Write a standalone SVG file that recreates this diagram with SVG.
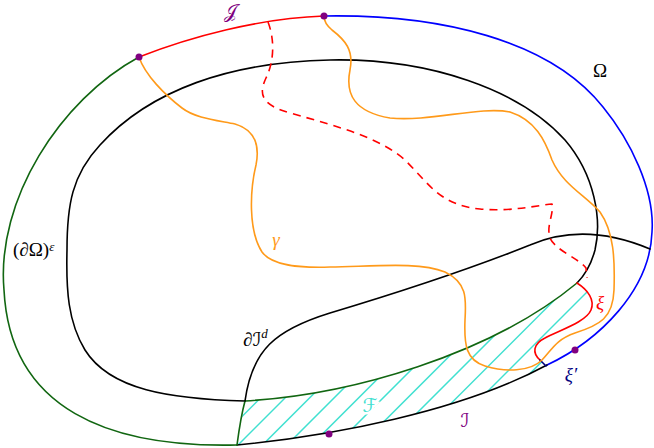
<svg xmlns="http://www.w3.org/2000/svg" width="654" height="448" viewBox="0 0 654 448">
  <style>
    .c { fill: none; stroke-width: 1.6; stroke-linecap: round; stroke-linejoin: round; }
    .blk { stroke: #000000; }
    .grn { stroke: #116611; }
    .blu { stroke: #0000ff; }
    .red { stroke: #ff0000; }
    .nav { stroke: #000080; }
    .org { stroke: #ff9a1a; }
    .dash { stroke-dasharray: 8 6; stroke-linecap: butt; }
    .hatch { stroke: #40e0d0; stroke-width: 1.5; fill: none; }
    .dot { fill: #800080; }
    .t { font-family: "Liberation Serif", "DejaVu Serif", "DejaVu Sans", "Noto Sans", serif; font-size: 19px; }
    .i { font-style: italic; }
  </style>
  <defs>
    <clipPath id="regionF">
      <path d="M237,445 L245,401 C350,395 490,355 577,283 C588,290 595,300 591,310 C586,322 560,330 545,338 C533,344 532,353 540,360 L546,366 C460,412 330,436 237,445 Z"/>
    </clipPath>
  </defs>

  <g id="hatch-F" clip-path="url(#regionF)" class="hatch">
    <line x1="198.5" y1="460" x2="388.5" y2="270"/>
    <line x1="223" y1="460" x2="413" y2="270"/>
    <line x1="247.5" y1="460" x2="437.5" y2="270"/>
    <line x1="272" y1="460" x2="462" y2="270"/>
    <line x1="296.5" y1="460" x2="486.5" y2="270"/>
    <line x1="321" y1="460" x2="511" y2="270"/>
    <line x1="345.5" y1="460" x2="535.5" y2="270"/>
    <line x1="370" y1="460" x2="560" y2="270"/>
    <line x1="394.5" y1="460" x2="584.5" y2="270"/>
    <line x1="419" y1="460" x2="609" y2="270"/>
    <line x1="443.5" y1="460" x2="633.5" y2="270"/>
  </g>

  <g id="connectors">
    <!-- outer boundary of Omega -->
    <path id="J" class="c red" d="M139,57 C190,37 260,18 324,16"/>
    <path id="omega-blue" class="c blu" d="M324,16 C440,14 550,40 603,107 C630,140 655,190 652,232 C650,290 600,340 547,365"/>
    <path id="I" class="c blk" d="M547,365 C460,412 330,436 237,445"/>
    <path id="omega-green" class="c grn" d="M237,445 C110,448 10,410 4,290 C-4,200 60,100 139,57"/>
    <!-- inner curve (dOmega)^eps -->
    <path id="eps-black" class="c blk" d="M577,283 C585,275 591,265 595,250 C602,220 595,175 565,140 C520,90 430,58 330,60 C230,62 150,90 100,145 C72,175 67,205 67,250 C66,290 68,322 85,350 C110,390 170,399 245,401"/>
    <path id="eps-green" class="c grn" d="M245,401 C350,395 490,355 577,283"/>
    <!-- dI^d -->
    <path id="dId-green" class="c grn" d="M237,445 C239,430 242,412 245,401"/>
    <path id="dId-black" class="c blk" d="M245,401 C252,350 275,330 330,313 C400,292 480,265 530,245 C560,232 600,228 650,249"/>
    <!-- dashed red -->
    <path id="red-dashed" class="c red dash" d="M268,22 C275,40 274,62 266,78 C258,95 262,105 290,113 C340,127 380,138 405,160 C430,185 440,205 480,209 C510,212 540,205 552,204 C554,215 546,225 550,238 C555,250 578,258 586,268 L587,278"/>
    <!-- xi and xi' -->
    <path id="xi" class="c red" d="M577,283 C588,290 595,300 591,310 C586,322 560,330 545,338 C533,344 532,353 540,360"/>
    <path id="xi-prime" class="c nav" d="M540,360 L546,366"/>
    <!-- gamma -->
    <path id="gamma" class="c org" d="M139,57 C145,75 165,95 182,108 C195,118 215,120 235,124 C255,130 260,145 256,165 C250,190 248,230 262,252 C272,266 300,268 330,267 C380,266 420,262 445,272 C468,283 466,300 465,320 C464,345 466,360 485,366 C505,372 530,372 542,360 C552,350 555,340 575,333 C600,325 613,318 614,290 C615,260 614,232 600,212 C585,195 563,185 552,160 C545,140 535,120 510,112 C480,106 430,122 390,118 C355,112 345,95 350,70 C354,50 345,40 332,30 C326,25 324,20 324,16"/>
  </g>

  <g id="points">
    <circle class="dot" cx="139" cy="57" r="3.5"/>
    <circle class="dot" cx="324" cy="16" r="3.5"/>
    <circle class="dot" cx="329" cy="434" r="3.5"/>
    <circle class="dot" cx="575" cy="350" r="3.5"/>
  </g>

  <g id="labels">
    <text class="t" x="230" y="18" text-anchor="middle" fill="#800080">𝒥</text>
    <text class="t" x="600" y="77" text-anchor="middle" fill="#000000">Ω</text>
    <text class="t" x="13" y="256" fill="#000000">(∂Ω)<tspan class="i" font-size="13" dy="-5">ε</tspan></text>
    <text class="t i" x="276" y="246" text-anchor="middle" fill="#ff9a1a">γ</text>
    <text class="t" x="243" y="346" fill="#000000">∂ℐ<tspan class="i" font-size="13" dy="-8">d</tspan></text>
    <text class="t i" x="600" y="309" text-anchor="middle" fill="#ff0000" font-size="18">ξ</text>
    <text class="t i" x="571" y="381" text-anchor="middle" fill="#000080" font-size="18">ξ′</text>
    <text class="t" x="465" y="427" text-anchor="middle" fill="#800080">ℐ</text>
    <text class="t" x="370" y="412" text-anchor="middle" fill="#40e0d0" stroke="#ffffff" stroke-width="5" paint-order="stroke">ℱ</text>
  </g>
</svg>
